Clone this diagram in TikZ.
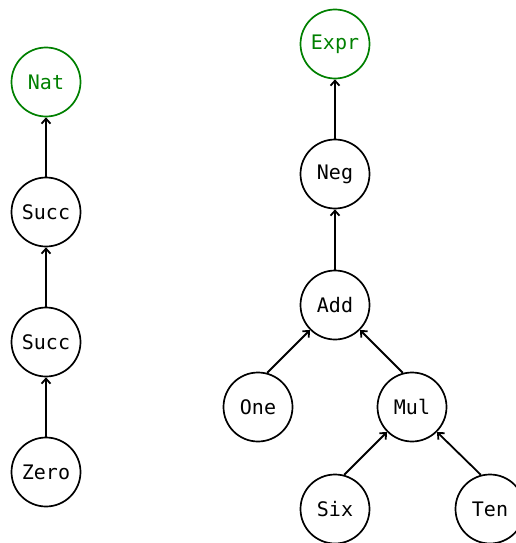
\documentclass[tikz,border=0pt]{standalone}
\usepackage{fontspec}
\setmonofont{DejaVu Sans Mono}
\usetikzlibrary{arrows.meta}
\definecolor{termgreen}{RGB}{0,128,0}
\tikzset{
  term/.style={draw,circle,minimum size=69pt,inner sep=0pt,line width=1.7pt,
    font=\fontsize{20}{22}\selectfont\ttfamily},
  sort/.style={term,draw=termgreen,text=termgreen},
  up/.style={-{Straight Barb[length=5pt,width=9pt]},line width=1.8pt},
}
\begin{document}
\begin{tikzpicture}[x=1pt,y=-1pt]
\useasboundingbox (0,0) rectangle (515,543);

% Nat
\node[sort] (nat)   at (46,82)  {Nat};
\node[term] (succa) at (46,212) {Succ};
\node[term] (succb) at (46,342) {Succ};
\node[term] (zero)  at (46,472) {Zero};

\draw[up] (succa) -- (nat);
\draw[up] (succb) -- (succa);
\draw[up] (zero) -- (succb);

% Expr
\node[sort] (expr) at (335,44)  {Expr};
\node[term] (neg)  at (335,174) {Neg};
\node[term] (add)  at (335,305) {Add};
\node[term] (one)  at (258,407) {One};
\node[term] (mul)  at (412,407) {Mul};
\node[term] (six)  at (335,509) {Six};
\node[term] (ten)  at (490,509) {Ten};

\draw[up] (neg) -- (expr);
\draw[up] (add) -- (neg);
\draw[up] (one.75)  -- (add.south west);
\draw[up] (mul.105) -- (add.south east);
\draw[up] (six.75)  -- (mul.south west);
\draw[up] (ten.105) -- (mul.south east);

\end{tikzpicture}
\end{document}
